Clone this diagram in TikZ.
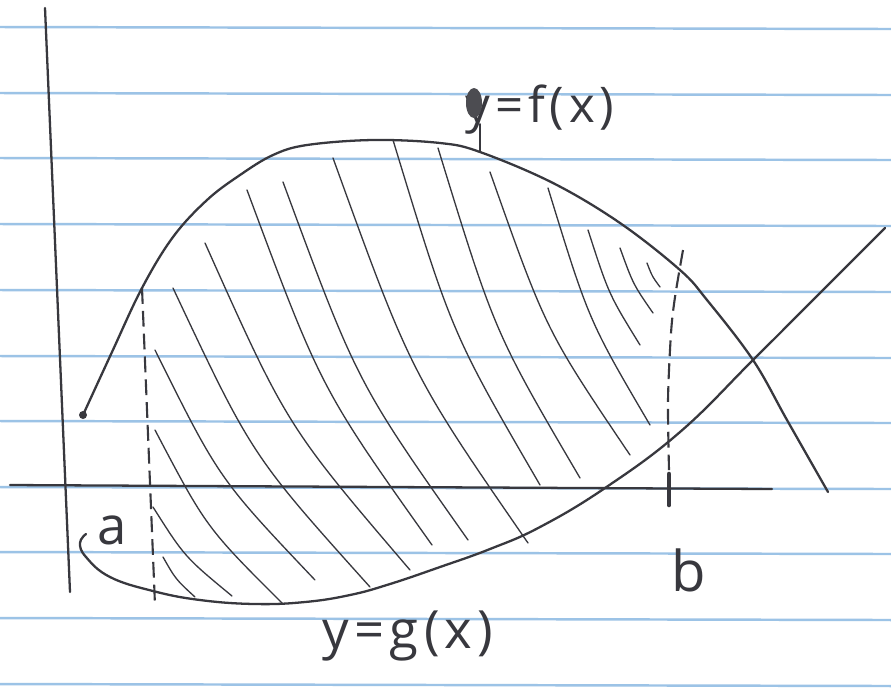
\documentclass[tikz,border=0pt]{standalone}
\usepackage{fontspec}
\usepackage{xcolor}
\usepackage{tikz}
\usetikzlibrary{calc}
\newfontfamily\handfont[LetterSpace=10]{Open Sans}
\definecolor{ink}{HTML}{38383E}
\definecolor{paperblue}{HTML}{9CC3E6}
\tikzset{
  pen/.style={draw=ink, line width=1.3pt, line cap=round, line join=round},
  hatchstroke/.style={draw=ink, line width=.75pt, line cap=round},
  ruling/.style={draw=paperblue, line width=1.4pt},
  guide/.style={draw=ink, line width=1.2pt, dash pattern=on 9pt off 4pt},
  lbl/.style={font=\handfont\fontsize{28}{32}\selectfont, text=ink, inner sep=0pt},
}

\begin{document}
\begin{tikzpicture}[x=0.02cm, y=-0.02cm]
  \useasboundingbox[fill=white] (0,0) rectangle (891,698);
  % ruled paper
  \foreach \r in {27,93,158,224,290,356,421,487,552,618,684}{
    \draw[ruling] (0,\r) -- (891,\r+2);
  }
  % axes
  \draw[pen] (45,8) -- (70,592);
  \draw[pen] (10,485) -- (772,489);
  % hatching between the curves
  \foreach \xa/\ya/\xb/\yb in {163/557/195/597, 153/507/232/596, 155/430/283/604, 155/350/315/580,
      173/288/370/587, 205/243/410/570, 247/190/432/545, 283/182/468/540, 333/158/528/543,
      393/140/540/485, 438/148/580/478, 490/172/630/455, 548/188/650/425, 588/230/640/345,
      620/248/653/313, 647/263/660/287}{
    \draw[hatchstroke] (\xa,\ya) .. controls ({\xa+0.4*(\xb-\xa)},{\ya+0.56*(\yb-\ya)}) .. (\xb,\yb);
  }
  % f(x)
  \draw[pen] plot[smooth, tension=0.6] coordinates {(83,415) (112,352) (142,288) (173,237) (207,200)
      (240,175) (273,155) (307,145) (373,140) (440,143) (480,152) (553,183) (620,223) (680,270)
      (707,300) (753,360) (787,420) (828,492)};
  \fill[ink] (83,415) circle (4);
  % g(x)
  \draw[pen] plot[smooth, tension=0.7] coordinates {(86,534) (80,543) (86,557) (110,577) (153,591)
      (200,600) (255,604) (305,602) (350,595) (390,584) (440,567) (490,549) (540,527) (605,488)
      (680,432) (753,360) (823,290) (885,228)};
  % bounds a and b
  \draw[guide] (142,288) -- (155,605);
  \draw[guide] plot[smooth] coordinates {(683,250) (675,297) (671,333) (668,400) (669,470)};
  \draw[pen, line width=2.6pt] (669,474) -- (669,505);
  % labels
  \node[lbl, anchor=west] (flabel) at (465,110) {y=f(x)};
  \fill[ink!90] (474,103) ellipse (8 and 15);
  \coordinate (ftouch) at (480,151);
  \draw[pen, line width=1pt] ($(flabel.west)+(15,14)$) -- (ftouch);
  \node[lbl, font=\handfont\fontsize{30}{34}\selectfont] (alabel) at (112,530) {a};
  \node[lbl, font=\handfont\fontsize{32}{36}\selectfont] (blabel) at (689,570) {b};
  \node[lbl, font=\handfont\fontsize{30}{34}\selectfont] (glabel) at (408,636) {y=g(x)};
\end{tikzpicture}
\end{document}
